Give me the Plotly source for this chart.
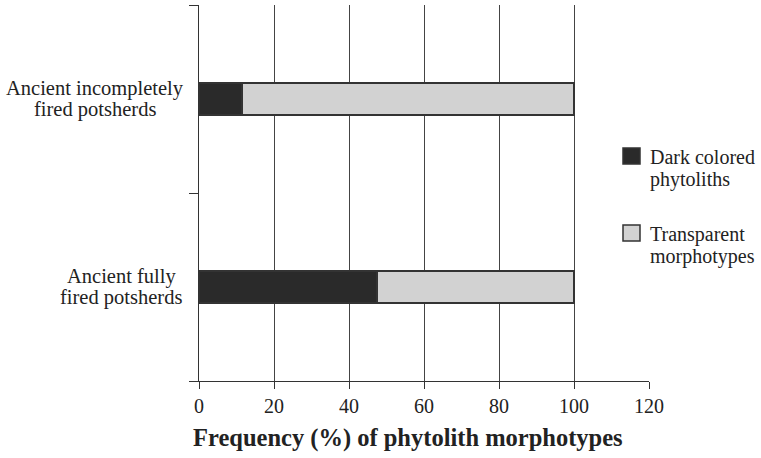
import plotly.graph_objects as go

# data
categories = [['Ancient fully', 'fired potsherds'],
              ['Ancient incompletely', 'fired potsherds']]
cat_pos = [0.5, 1.5]
dark = [47.5, 11.5]
transparent = [52.5, 88.5]
x_ticks = [0, 20, 40, 60, 80, 100, 120]
series_names = [['Dark colored', 'phytoliths'], ['Transparent', 'morphotypes']]
series_colors = ['#2a2a2a', '#d2d2d2']
x_title = 'Frequency (%) of phytolith morphotypes'

font = 'Liberation Serif, Times New Roman, serif'
W, H = 761, 458
L, R, T, B = 199, 112, 5, 77


def px(xp):
    return (xp - L) / (W - L - R)


def py(yp):
    return (H - B - yp) / (H - T - B)


fig = go.Figure()
for vals, nm, col in zip([dark, transparent], series_names, series_colors):
    fig.add_trace(go.Bar(
        y=cat_pos, x=vals, orientation='h', width=0.17,
        name=' '.join(nm), showlegend=False,
        marker=dict(color=col, line=dict(color='#333333', width=1.5)),
    ))

# category labels (two tight lines each)
label_centers = [121, 95]
for yv, lines, cx in zip(cat_pos, categories, label_centers):
    for i, line in enumerate(lines):
        fig.add_annotation(x=px(cx), y=yv, xref='paper', yref='y', text=line,
                           showarrow=False, xanchor='center', yanchor='middle',
                           yshift=10.5 - 21 * i, font=dict(size=20.5, color='#222'))

# legend drawn by hand
leg_tops = [148, 225]
for top, nm, col in zip(leg_tops, series_names, series_colors):
    fig.add_shape(type='rect', xref='paper', yref='paper',
                  x0=px(623), x1=px(640), y0=py(top + 16), y1=py(top),
                  fillcolor=col, line=dict(color='#333', width=1.5))
    for i, line in enumerate(nm):
        fig.add_annotation(x=px(648), y=py(top + 9 + 22 * i), xref='paper', yref='paper',
                           text=line, showarrow=False, xanchor='left', yanchor='middle',
                           font=dict(size=20, color='#222'))

# x axis title, centred a bit left of the axis like the original
fig.add_annotation(x=px(408), y=py(438), xref='paper', yref='paper',
                   text='<b>' + x_title + '</b>', showarrow=False,
                   xanchor='center', yanchor='middle', font=dict(size=24.5, color='#222'))

fig.update_layout(
    barmode='stack',
    width=W, height=H,
    margin=dict(l=L, r=R, t=T, b=B),
    plot_bgcolor='white', paper_bgcolor='white',
    font=dict(family=font, color='#222', size=20),
    showlegend=False,
    xaxis=dict(range=[0, 120], tickvals=x_ticks, showgrid=True, automargin=False,
               gridcolor='#444', gridwidth=1, zeroline=False,
               showline=True, linecolor='#333', linewidth=1.2,
               ticks='outside', ticklen=7, tickcolor='#333',
               tickfont=dict(size=20)),
    yaxis=dict(range=[0, 2], tickvals=[0, 1, 2], showticklabels=False, automargin=False,
               showgrid=False, zeroline=False, showline=True,
               linecolor='#333', linewidth=1.2,
               ticks='outside', ticklen=9, tickcolor='#333'),
)

# drop the default page margin so the figure fills the window
fig.write_html("out.html", config={'displayModeBar': False},
               post_script="document.body.style.margin='0px';")
